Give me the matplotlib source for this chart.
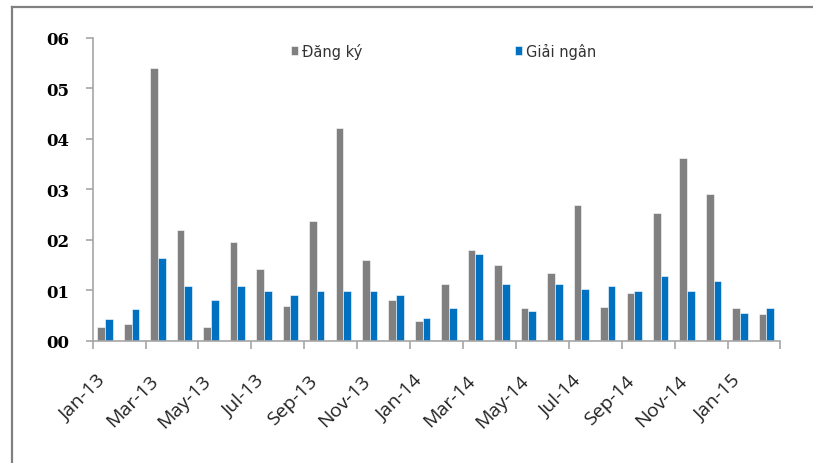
import matplotlib.pyplot as plt
import matplotlib.transforms as mtransforms
import numpy as np
from matplotlib.lines import Line2D
from matplotlib.ticker import FixedLocator

months = ["Jan-13", "Feb-13", "Mar-13", "Apr-13", "May-13", "Jun-13",
          "Jul-13", "Aug-13", "Sep-13", "Oct-13", "Nov-13", "Dec-13",
          "Jan-14", "Feb-14", "Mar-14", "Apr-14", "May-14", "Jun-14",
          "Jul-14", "Aug-14", "Sep-14", "Oct-14", "Nov-14", "Dec-14",
          "Jan-15", "Feb-15"]
dang_ky = [0.27, 0.34, 5.41, 2.20, 0.27, 1.95, 1.43, 0.69, 2.38, 4.21,
           1.59, 0.80, 0.39, 1.13, 1.79, 1.51, 0.65, 1.34, 2.68, 0.67,
           0.95, 2.53, 3.63, 2.91, 0.65, 0.52]
giai_ngan = [0.42, 0.62, 1.64, 1.08, 0.80, 1.08, 0.98, 0.90, 0.98, 0.98,
             0.98, 0.90, 0.44, 0.65, 1.71, 1.13, 0.59, 1.13, 1.03, 1.08,
             0.98, 1.28, 0.98, 1.18, 0.54, 0.65]
y_ticks = [0, 1, 2, 3, 4, 5, 6]
y_labels = ["00", "01", "02", "03", "04", "05", "06"]

GRAY = "#808080"
BLUE = "#0070C0"
AXIS = "#A6A6A6"

fig = plt.figure(figsize=(8.13, 4.64), dpi=100)
ax = fig.add_axes([0.114, 0.2636, 0.846, 0.6524])

x = np.arange(len(months))
w = 0.29
ax.bar(x - 0.175, dang_ky, w, color=GRAY, edgecolor="white", linewidth=0.4, label="Đăng ký")
ax.bar(x + 0.115, giai_ngan, w, color=BLUE, edgecolor="white", linewidth=0.4, label="Giải ngân")

ax.set_xlim(-0.5, len(months) - 0.5)
ax.set_ylim(0, 6)

for side in ("top", "right"):
    ax.spines[side].set_visible(False)
for side in ("left", "bottom"):
    ax.spines[side].set_color(AXIS)
    ax.spines[side].set_linewidth(1.2)

ax.set_yticks(y_ticks)
ax.set_yticklabels(y_labels, family="DejaVu Serif", fontweight="bold", fontsize=12)
ax.tick_params(axis="y", length=5, width=1.2, color=AXIS, pad=12)

# labels on every other month, tick marks between category pairs
ax.set_xticks(x[::2])
ax.set_xticklabels(months[::2], rotation=45, ha="right", family="Open Sans",
                   fontsize=14, color="#222222")
ax.tick_params(axis="x", which="major", length=0, pad=22)
shift = mtransforms.ScaledTranslation(3 / 100, 0, fig.dpi_scale_trans)
for lbl in ax.get_xticklabels():
    lbl.set_transform(lbl.get_transform() + shift)
ax.xaxis.set_minor_locator(FixedLocator(np.arange(-0.5, len(months), 2)))
ax.tick_params(axis="x", which="minor", length=6, width=1.2, color=AXIS)

leg = ax.legend(ncol=2, loc="center", bbox_to_anchor=(0.51, 0.958), frameon=False,
                fontsize=10.5, handlelength=0.5, handleheight=0.5, handletextpad=0.25,
                columnspacing=10.5, borderpad=0)
for t in leg.get_texts():
    t.set_color("#333333")

# outer frame lines
fig.add_artist(Line2D([11.5 / 813, 1.0], [1 - 8 / 464, 1 - 8 / 464],
                      transform=fig.transFigure, color=GRAY, linewidth=1.6))
fig.add_artist(Line2D([11.5 / 813, 11.5 / 813], [1 - 8 / 464, 0.0],
                      transform=fig.transFigure, color=GRAY, linewidth=1.6))

fig.savefig("out.png", dpi=100, facecolor="white")
